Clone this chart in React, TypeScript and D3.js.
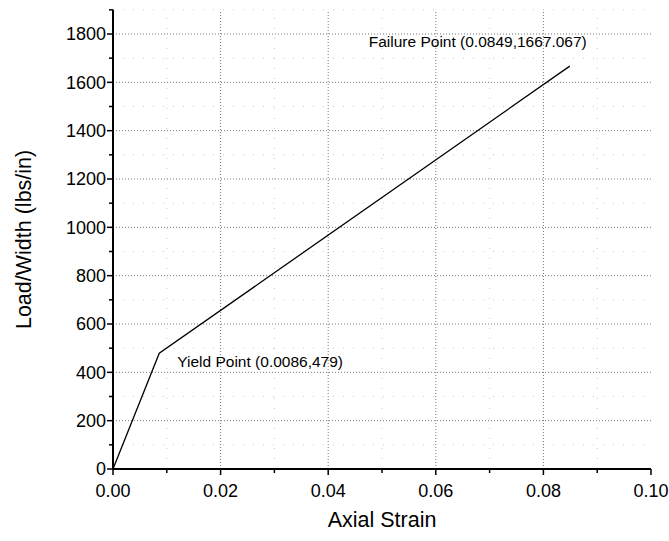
import React from "react";
import * as d3 from "d3";

const strain = [0, 0.0086, 0.0849];
const load = [0, 479, 1667.067];
const xTicks = [0, 0.02, 0.04, 0.06, 0.08, 0.1];
const xMinor = [0.01, 0.03, 0.05, 0.07, 0.09];
const yTicks = [0, 200, 400, 600, 800, 1000, 1200, 1400, 1600, 1800];
const yMinor = [100, 300, 500, 700, 900, 1100, 1300, 1500, 1700, 1900];
const annotations = [
  { label: "Yield Point (0.0086,479)", x: 0.0086, y: 479, dx: 18, dy: 14 },
  { label: "Failure Point (0.0849,1667.067)", x: 0.0849, y: 1667.067, dx: -201, dy: -19 },
];

const W = 669, H = 541;
const left = 113, right = 651, top = 34, bottom = 469;
const FONT = "'Liberation Sans', Arial, Helvetica, sans-serif";

export default function App() {
  const x = d3.scaleLinear().domain([0, 0.1]).range([left, right]);
  const y = d3.scaleLinear().domain([0, 1800]).range([bottom, top]);
  const pts = strain.map((s, i) => [s, load[i]] as [number, number]);
  const line = d3.line<[number, number]>().x(d => x(d[0])).y(d => y(d[1]));
  const yTopVal = 1900;
  return (
    <svg width={W} height={H} style={{ position: "absolute", left: 0, top: 0, background: "#fff" }} fontFamily={FONT}>
      <rect width={W} height={H} fill="#fff" />
      {/* minor grid */}
      {xMinor.map(v => (
        <line key={"xm" + v} x1={x(v)} x2={x(v)} y1={bottom} y2={y(yTopVal)} stroke="#bbb" strokeWidth={0.8} strokeDasharray="1,9" />
      ))}
      {yMinor.map(v => (
        <line key={"ym" + v} x1={left} x2={right} y1={y(v)} y2={y(v)} stroke="#bbb" strokeWidth={0.8} strokeDasharray="1,9" />
      ))}
      {/* major grid */}
      {xTicks.slice(1, -1).map(v => (
        <line key={"xg" + v} x1={x(v)} x2={x(v)} y1={bottom} y2={y(yTopVal)} stroke="#555" strokeWidth={0.8} strokeDasharray="1,2" />
      ))}
      {yTicks.slice(1).map(v => (
        <line key={"yg" + v} x1={left} x2={right} y1={y(v)} y2={y(v)} stroke="#555" strokeWidth={0.8} strokeDasharray="1,2" />
      ))}
      {/* data line */}
      <path d={line(pts) || ""} fill="none" stroke="#000" strokeWidth={1.3} />
      {/* axes */}
      <line x1={left} x2={left} y1={bottom + 1} y2={y(yTopVal)} stroke="#000" strokeWidth={2} />
      <line x1={left - 1} x2={right} y1={bottom} y2={bottom} stroke="#000" strokeWidth={2} />
      {yTicks.map(v => (
        <g key={"yt" + v}>
          <line x1={left - 6} x2={left} y1={y(v)} y2={y(v)} stroke="#000" strokeWidth={1.5} />
          <text x={left - 7} y={y(v)} dy="0.36em" textAnchor="end" fontSize={18}>{v}</text>
        </g>
      ))}
      {yMinor.map(v => (
        <line key={"ymt" + v} x1={left - 4} x2={left} y1={y(v)} y2={y(v)} stroke="#000" strokeWidth={1.5} />
      ))}
      {xTicks.map(v => (
        <g key={"xt" + v}>
          <line x1={x(v)} x2={x(v)} y1={bottom} y2={bottom + 6} stroke="#000" strokeWidth={1.5} />
          <text x={x(v)} y={bottom + 28} textAnchor="middle" fontSize={18}>{d3.format(".2f")(v)}</text>
        </g>
      ))}
      {xMinor.map(v => (
        <line key={"xmt" + v} x1={x(v)} x2={x(v)} y1={bottom} y2={bottom + 4} stroke="#000" strokeWidth={1.5} />
      ))}
      {/* annotations */}
      {annotations.map(a => (
        <text key={a.label} x={x(a.x) + a.dx} y={y(a.y) + a.dy} fontSize={15.5}>{a.label}</text>
      ))}
      {/* axis titles */}
      <text x={(left + right) / 2} y={527} textAnchor="middle" fontSize={21.5}>Axial Strain</text>
      <text transform={`translate(31,${(bottom + y(yTopVal)) / 2}) rotate(-90)`} textAnchor="middle" fontSize={21.5}>Load/Width (lbs/in)</text>
    </svg>
  );
}
